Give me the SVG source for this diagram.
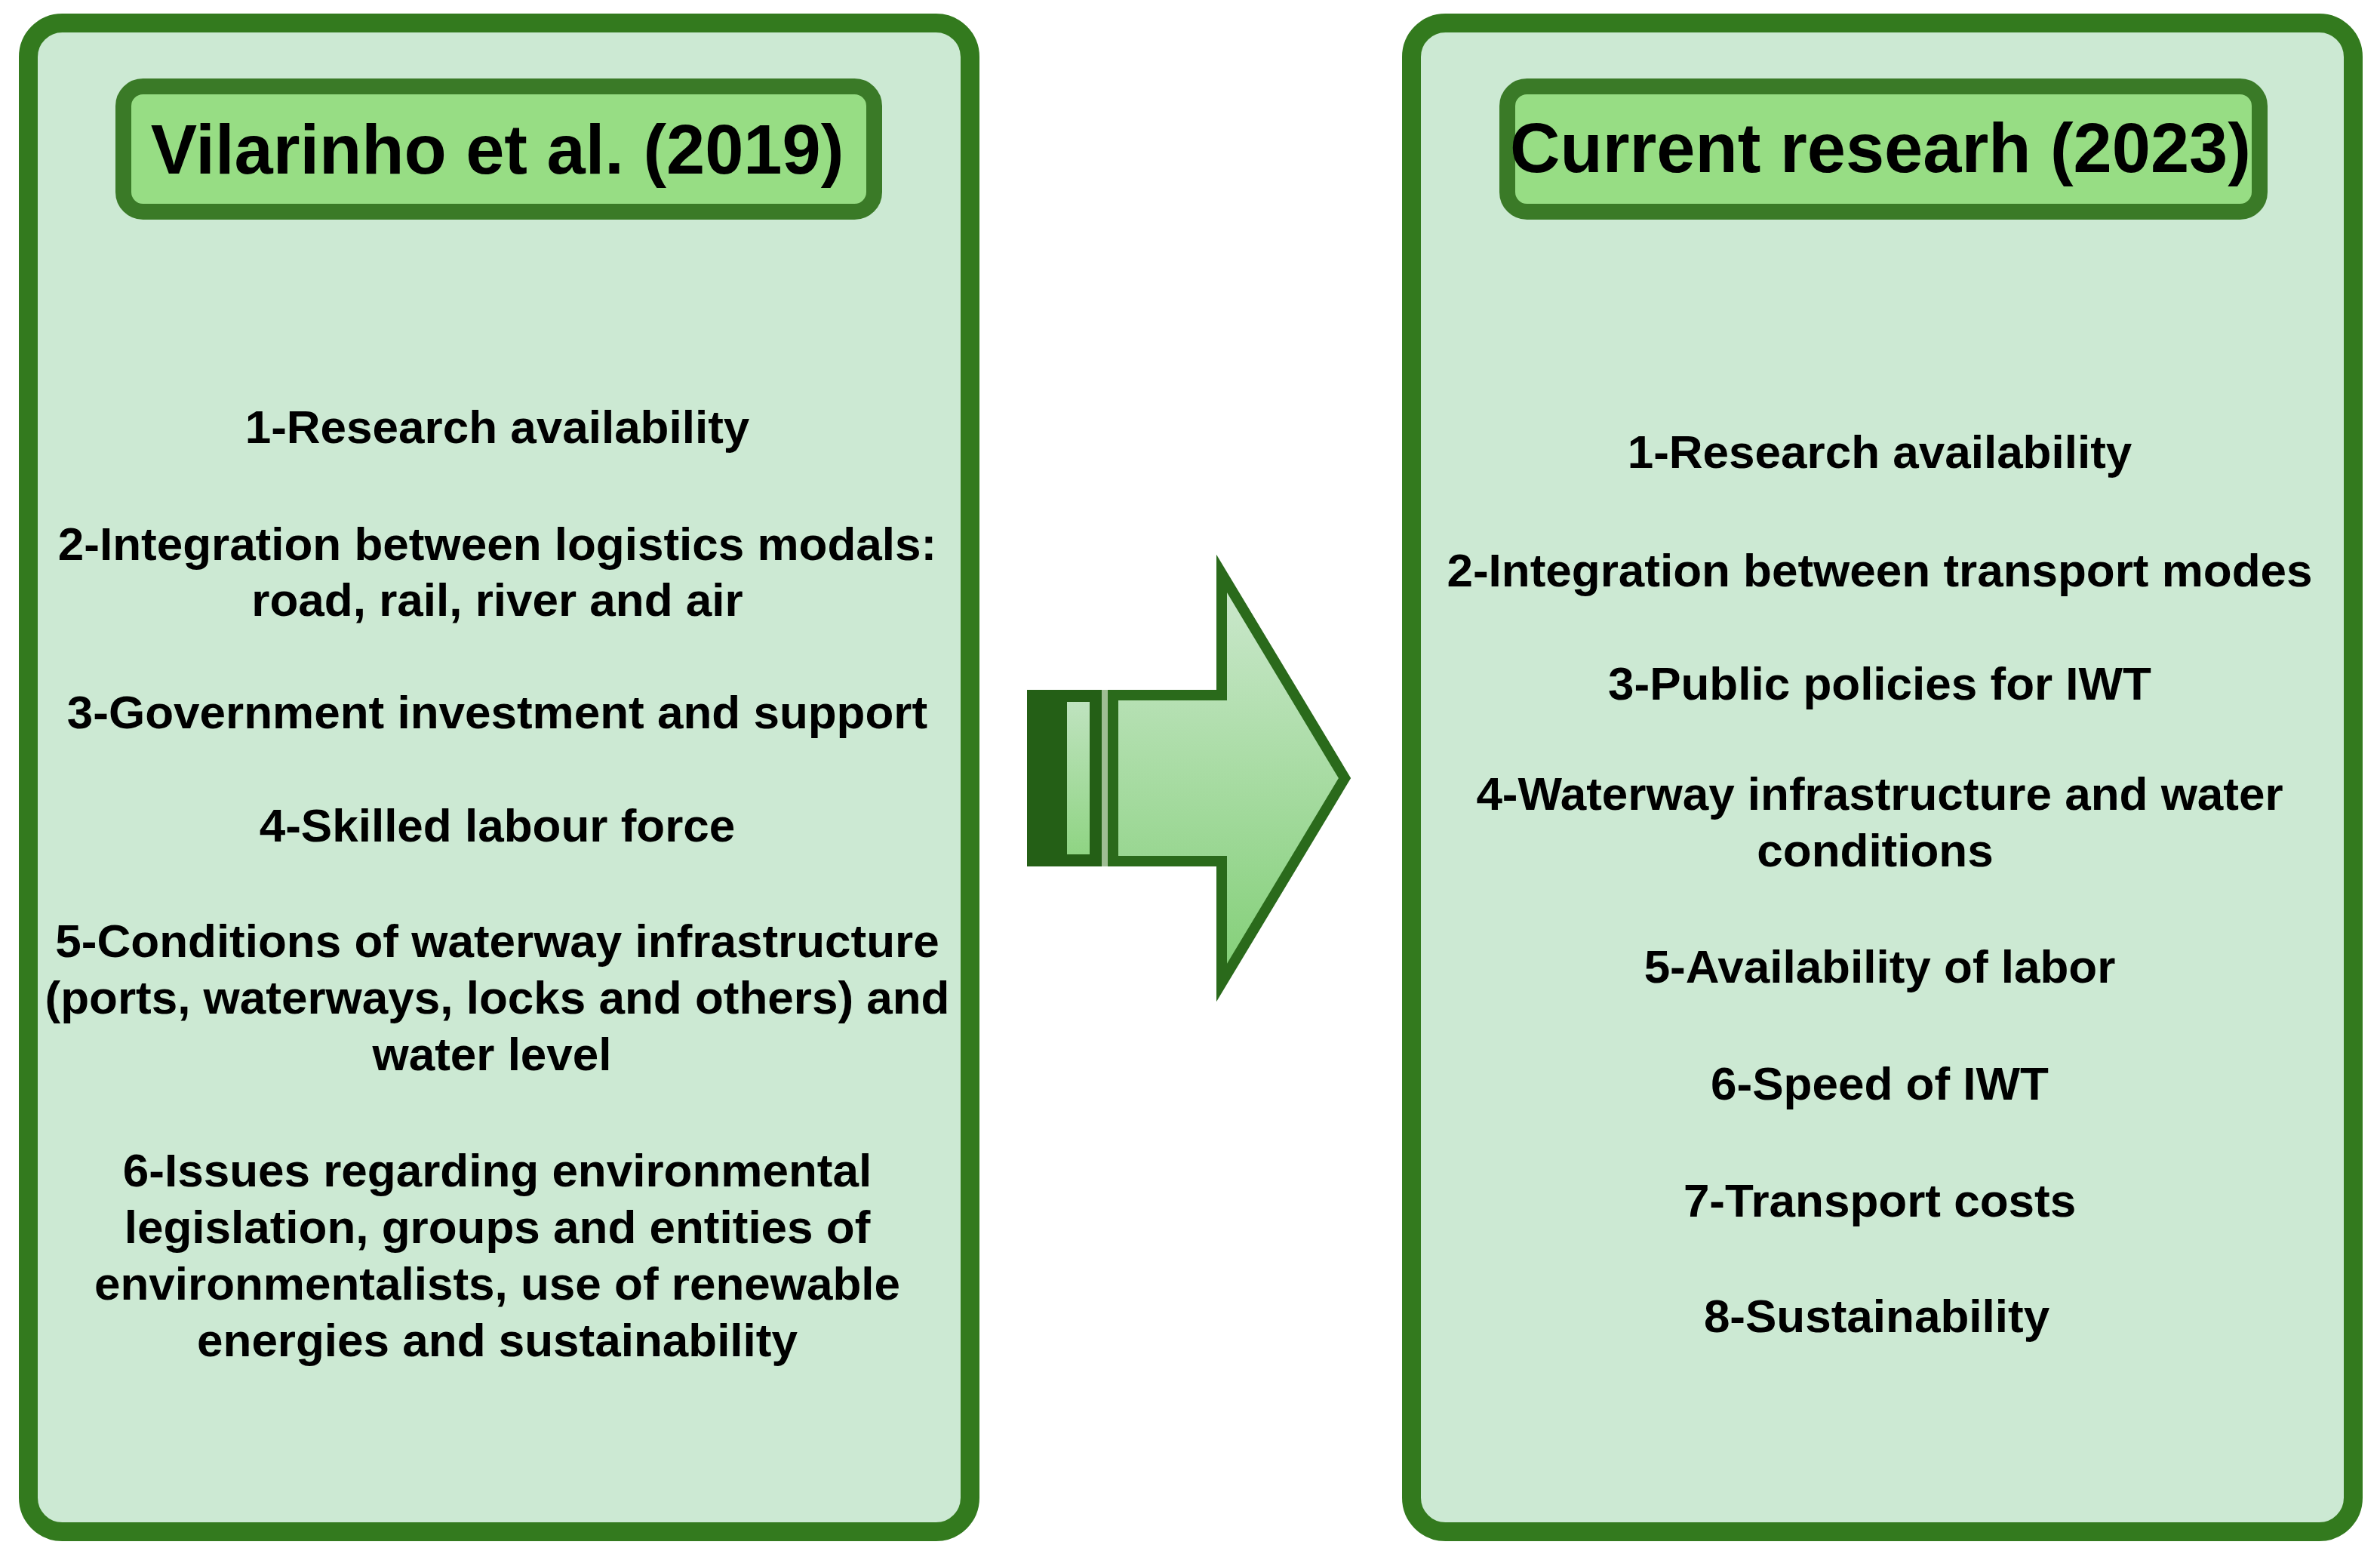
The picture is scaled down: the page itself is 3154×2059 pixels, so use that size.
<svg xmlns="http://www.w3.org/2000/svg" width="3154" height="2059" viewBox="0 0 3154 2059">
<defs>
<linearGradient id="arrowFill" x1="0" y1="0" x2="0" y2="1">
<stop offset="0" stop-color="#cde8cf"/>
<stop offset="1" stop-color="#82cf76"/>
</linearGradient>
<linearGradient id="tailFill" x1="0" y1="0" x2="0" y2="1">
<stop offset="0" stop-color="#bfe3bf"/>
<stop offset="1" stop-color="#8fd483"/>
</linearGradient>
<style>
.panel{fill:#cce9d3;stroke:#337a1e;stroke-width:25}
.title-box{fill:#97dd84;stroke:#3a7a27;stroke-width:21}
.title{font-family:"Liberation Sans",Arial,sans-serif;font-weight:bold;font-size:92px;fill:#000;text-anchor:middle}
.item{font-family:"Liberation Sans",Arial,sans-serif;font-weight:bold;font-size:62px;fill:#000;text-anchor:middle}
.arrow{fill:url(#arrowFill);stroke:#2a6a1b;stroke-width:14;stroke-linejoin:miter;stroke-miterlimit:6}
</style>
</defs>
<rect width="3154" height="2059" fill="#ffffff"/>

<g id="node-vilarinho">
<rect class="panel" x="37.5" y="30.5" width="1248" height="1999" rx="45" ry="45"/>
<rect class="title-box" x="163.5" y="114.5" width="995" height="166" rx="26" ry="26"/>
<text class="title" x="659" y="230">Vilarinho et al. (2019)</text>
<text class="item" x="659" y="587">1-Research availability</text>
<text class="item" x="659" y="742">2-Integration between logistics modals:</text>
<text class="item" x="659" y="816">road, rail, river and air</text>
<text class="item" x="659" y="965">3-Government investment and support</text>
<text class="item" x="659" y="1115">4-Skilled labour force</text>
<text class="item" x="659" y="1268">5-Conditions of waterway infrastructure</text>
<text class="item" x="659" y="1343">(ports, waterways, locks and others) and</text>
<text class="item" x="652" y="1418">water level</text>
<text class="item" x="659" y="1572">6-Issues regarding environmental</text>
<text class="item" x="659" y="1647">legislation, groups and entities of</text>
<text class="item" x="659" y="1722">environmentalists, use of renewable</text>
<text class="item" x="659" y="1797">energies and sustainability</text>
</g>

<g id="node-current">
<rect class="panel" x="1870.5" y="30.5" width="1248" height="1999" rx="45" ry="45"/>
<rect class="title-box" x="1997.5" y="114.5" width="997" height="166" rx="26" ry="26"/>
<text class="title" x="2492" y="228">Current researh (2023)</text>
<text class="item" x="2491" y="620">1-Research availability</text>
<text class="item" x="2491" y="777">2-Integration between transport modes</text>
<text class="item" x="2491" y="927">3-Public policies for IWT</text>
<text class="item" x="2491" y="1073">4-Waterway infrastructure and water</text>
<text class="item" x="2485" y="1148">conditions</text>
<text class="item" x="2491" y="1302">5-Availability of labor</text>
<text class="item" x="2491" y="1457">6-Speed of IWT</text>
<text class="item" x="2491" y="1612">7-Transport costs</text>
<text class="item" x="2487" y="1765">8-Sustainability</text>
</g>

<g id="connectors">
<rect x="1361" y="914" width="99" height="234" fill="#245f16"/>
<rect x="1414" y="930" width="30" height="202" fill="url(#tailFill)"/>
<rect x="1460" y="914" width="8" height="234" fill="#9fbd94"/>
<polygon class="arrow" points="1475,921 1619,921 1619,760 1782,1031 1619,1302 1619,1141 1475,1141"/>
</g>
</svg>
